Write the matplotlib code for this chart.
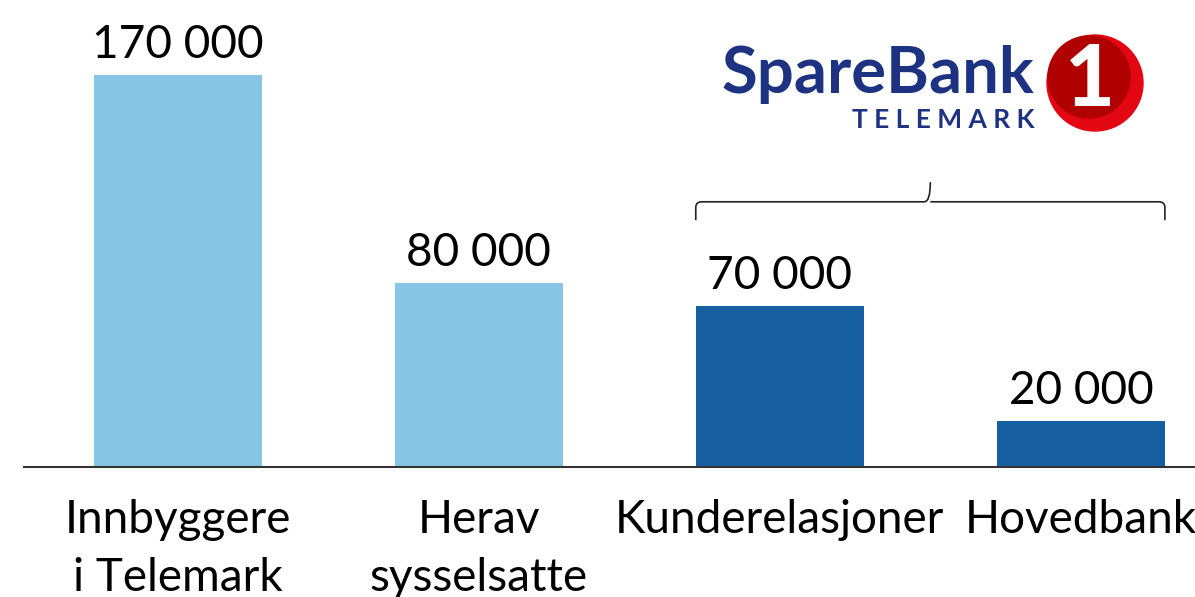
import matplotlib.pyplot as plt
from matplotlib.patches import Circle
from matplotlib.path import Path
from matplotlib.patches import PathPatch

# data
categories = ["Innbyggere\ni Telemark", "Herav\nsysselsatte", "Kunderelasjoner", "Hovedbank"]
values = [170000, 80000, 70000, 20000]
value_labels = ["170 000", "80 000", "70 000", "20 000"]
colors = ["#86C6E4", "#86C6E4", "#1660A1", "#1660A1"]

plt.rcParams['font.family'] = ['Lato', 'DejaVu Sans']

fig = plt.figure(figsize=(11.95, 5.97), dpi=100)
ax = fig.add_axes([24 / 1195, 130 / 597, 1171 / 1195, 467 / 597])

x = list(range(len(values)))
bar_w = 0.558
ax.bar(x, values, width=bar_w, color=colors, zorder=2)

ax.set_xlim(-0.51, 3.379)
ax.set_ylim(0, 202500)
for side in ["top", "left", "right"]:
    ax.spines[side].set_visible(False)
ax.spines["bottom"].set_color("#333333")
ax.spines["bottom"].set_linewidth(1.5)
ax.set_yticks([])
ax.set_xticks([])

# value labels above bars
for xi, v, lab in zip(x, values, value_labels):
    ax.annotate(lab, (xi, v), xytext=(0, 12), textcoords="offset points",
                ha="center", va="baseline", fontsize=33, color="black")

# category labels under axis
for xi, lab in zip(x, categories):
    ax.annotate(lab, (xi, 0), xytext=(0, -23), textcoords="offset points",
                ha="center", va="top", fontsize=33, color="black",
                linespacing=1.47, annotation_clip=False)

# brace over the two customer bars
x0 = x[2] - bar_w / 2
x1 = x[3] + bar_w / 2
xm = (x0 + x1) / 2
y_end, y_line, y_tip = 107000, 115000, 123500
r = 0.02
verts = [(x0, y_end), (x0, y_line - 2500), (x0, y_line), (x0 + r, y_line),
         (xm - r, y_line), (xm, y_line), (xm, y_tip),
         (xm, y_line), (xm + r, y_line),
         (x1 - r, y_line), (x1, y_line), (x1, y_line - 2500), (x1, y_end)]
codes = [Path.MOVETO, Path.LINETO, Path.CURVE3, Path.CURVE3,
         Path.LINETO, Path.CURVE3, Path.CURVE3,
         Path.MOVETO, Path.LINETO,
         Path.LINETO, Path.CURVE3, Path.CURVE3, Path.LINETO]
ax.add_patch(PathPatch(Path(verts, codes), fill=False, lw=1.2, color="#222222"))

# logo
navy = "#1E3282"
fig.text(1034 / 1195, 1 - 93 / 597, "SpareBank", ha="right", va="baseline",
         fontsize=47, fontweight="bold", color=navy)
fig.text(1035 / 1195, 1 - 128 / 597, "T E L E M A R K", ha="right", va="baseline",
         fontsize=19, fontweight="bold", color=navy)
lax = fig.add_axes([1040 / 1195, 1 - 140 / 597, 110 / 1195, 110 / 597])
lax.set_xlim(0, 110)
lax.set_ylim(110, 0)
lax.set_aspect("equal")
lax.axis("off")
lax.add_patch(Circle((55, 53), 48, color="#E30613"))
lax.add_patch(Circle((49, 47), 41, color="#B00000"))
lax.text(50, 52, "1", ha="center", va="center", fontsize=62, fontweight="black",
         color="white")

fig.savefig("out.png", dpi=100)
